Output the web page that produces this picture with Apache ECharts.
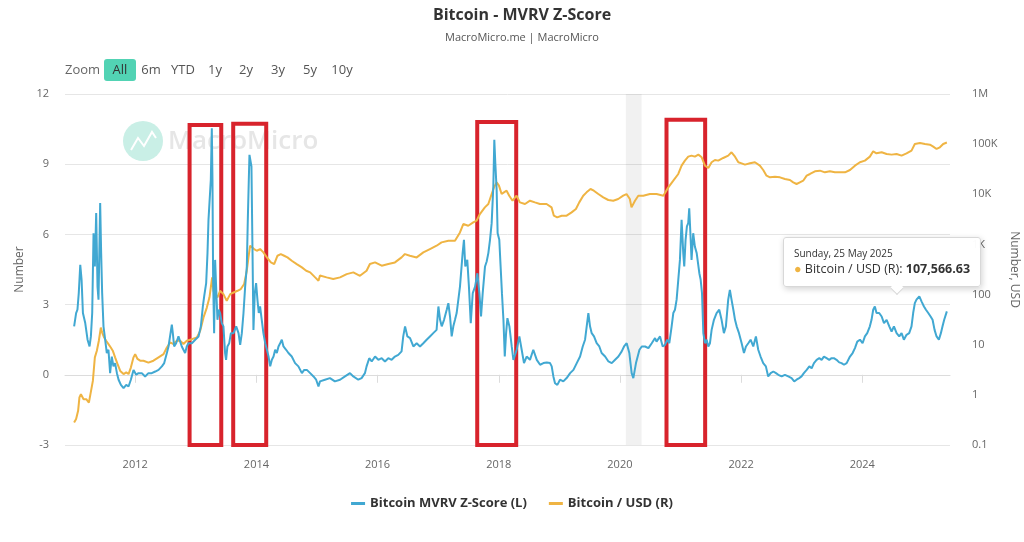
<!DOCTYPE html>
<html>
<head>
<meta charset="utf-8">
<script src="https://cdn.jsdelivr.net/npm/echarts@6/dist/echarts.min.js"></script>
<style>
  html, body { margin: 0; padding: 0; background: #fff; }
  #chart { width: 1024px; height: 542px; }
</style>
</head>
<body>
<div id="chart"></div>
<script>
// MVRV Z-Score (left axis)
var zDates = [
  "2010-12-29","2011-01-10","2011-01-18","2011-01-26","2011-02-04","2011-02-12","2011-02-20","2011-03-06","2011-03-20","2011-04-01","2011-04-09","2011-04-17","2011-04-25","2011-05-03","2011-05-11","2011-05-19","2011-05-25","2011-06-04","2011-06-10","2011-06-16","2011-06-24","2011-07-04","2011-07-14","2011-07-24","2011-08-03","2011-08-13","2011-08-23","2011-09-02","2011-09-13","2011-09-23","2011-10-07","2011-10-23","2011-11-08","2011-11-22","2011-12-06","2011-12-22",
  "2012-01-07","2012-01-21","2012-02-10","2012-03-01","2012-03-21","2012-04-10","2012-05-01","2012-05-21","2012-06-10","2012-06-24","2012-07-10","2012-07-20","2012-07-30","2012-08-09","2012-08-15","2012-08-23","2012-09-04","2012-09-18","2012-09-28","2012-10-08","2012-10-18","2012-10-28","2012-11-07","2012-11-17","2012-12-08","2012-12-28",
  "2013-01-17","2013-01-31","2013-02-12","2013-02-20","2013-03-04","2013-03-12","2013-03-18","2013-03-24","2013-04-01","2013-04-07","2013-04-11","2013-04-15","2013-04-21","2013-04-27","2013-05-03","2013-05-11","2013-05-19","2013-05-27","2013-06-06","2013-06-16","2013-06-26","2013-07-02","2013-07-10","2013-07-21","2013-07-31","2013-08-16","2013-09-01","2013-09-15","2013-09-25","2013-10-05","2013-10-15","2013-10-25","2013-11-04","2013-11-10","2013-11-16","2013-11-20","2013-11-26","2013-12-02","2013-12-08","2013-12-14","2013-12-22","2013-12-30",
  "2014-01-07","2014-01-15","2014-01-23","2014-02-02","2014-02-12","2014-02-23","2014-03-05","2014-03-15","2014-03-25","2014-04-04","2014-04-14","2014-04-24","2014-05-04","2014-05-14","2014-05-24","2014-06-03","2014-06-13","2014-06-29","2014-07-13","2014-08-02","2014-08-22","2014-09-11","2014-10-02","2014-10-16","2014-11-01","2014-11-21","2014-12-11","2014-12-27",
  "2015-01-10","2015-01-19","2015-02-18","2015-03-20","2015-04-19","2015-05-20","2015-06-19","2015-07-19","2015-08-08","2015-09-07","2015-09-27","2015-10-17","2015-10-27","2015-11-12","2015-11-27","2015-12-17",
  "2016-01-06","2016-01-26","2016-02-15","2016-03-06","2016-03-26","2016-04-15","2016-05-05","2016-05-25","2016-06-04","2016-06-15","2016-06-29","2016-07-15","2016-08-04","2016-08-24","2016-09-13","2016-10-03","2016-10-23","2016-11-12","2016-12-02","2016-12-22",
  "2017-01-02","2017-01-12","2017-01-22","2017-02-05","2017-02-21","2017-03-03","2017-03-13","2017-03-23","2017-04-02","2017-04-12","2017-04-22","2017-05-12","2017-05-28","2017-06-05","2017-06-13","2017-06-25","2017-07-05","2017-07-16","2017-07-28","2017-08-11","2017-08-25","2017-09-06","2017-09-16","2017-09-26","2017-10-10","2017-10-20","2017-10-30","2017-11-09","2017-11-19","2017-11-29","2017-12-05","2017-12-11","2017-12-19","2017-12-25",
  "2018-01-04","2018-01-12","2018-01-20","2018-01-29","2018-02-06","2018-02-14","2018-02-22","2018-03-06","2018-03-20","2018-03-30","2018-04-19","2018-05-05","2018-05-19","2018-06-02","2018-06-18","2018-07-08","2018-07-28","2018-08-18","2018-09-07","2018-09-27","2018-10-17","2018-11-06","2018-11-16","2018-11-26","2018-12-06","2018-12-20",
  "2019-01-05","2019-01-25","2019-02-14","2019-03-07","2019-03-27","2019-04-16","2019-05-06","2019-05-22","2019-06-05","2019-06-15","2019-06-25","2019-07-05","2019-07-15","2019-07-29","2019-08-14","2019-08-30","2019-09-13","2019-10-04","2019-10-24","2019-11-13","2019-12-03","2019-12-23",
  "2020-01-12","2020-01-26","2020-02-11","2020-02-27","2020-03-12","2020-03-22","2020-04-07","2020-04-28","2020-05-12","2020-06-01","2020-06-21","2020-07-11","2020-07-31","2020-08-09","2020-08-30","2020-09-15","2020-09-29","2020-10-13","2020-10-25","2020-11-08","2020-11-18","2020-11-28","2020-12-08","2020-12-18","2020-12-28",
  "2021-01-07","2021-01-17","2021-01-23","2021-01-31","2021-02-08","2021-02-16","2021-02-22","2021-03-02","2021-03-08","2021-03-18","2021-03-28","2021-04-08","2021-04-18","2021-04-24","2021-05-02","2021-05-10","2021-05-18","2021-05-28","2021-06-07","2021-06-17","2021-06-27","2021-07-07","2021-07-21","2021-08-06","2021-08-22","2021-09-05","2021-09-19","2021-10-01","2021-10-15","2021-10-25","2021-11-04","2021-11-15","2021-11-25","2021-12-05","2021-12-19",
  "2022-01-04","2022-01-18","2022-01-30","2022-02-13","2022-02-27","2022-03-15","2022-03-31","2022-04-14","2022-04-28","2022-05-14","2022-05-30","2022-06-13","2022-06-28","2022-07-14","2022-07-30","2022-08-13","2022-09-02","2022-09-22","2022-10-12","2022-11-01","2022-11-17","2022-12-01","2022-12-17","2022-12-31",
  "2023-01-14","2023-01-31","2023-02-16","2023-03-02","2023-03-16","2023-04-01","2023-04-17","2023-05-01","2023-05-15","2023-05-31","2023-06-16","2023-06-30","2023-07-14","2023-07-30","2023-08-15","2023-08-29","2023-09-13","2023-09-29","2023-10-19","2023-11-04","2023-11-18","2023-12-02","2023-12-18",
  "2024-01-03","2024-01-17","2024-01-31","2024-02-16","2024-02-26","2024-03-07","2024-03-17","2024-03-27","2024-04-12","2024-04-27","2024-05-11","2024-05-27","2024-06-12","2024-06-26","2024-07-10","2024-07-26","2024-08-11","2024-08-25","2024-09-08","2024-09-24","2024-10-10","2024-10-24","2024-11-03","2024-11-13","2024-11-23","2024-12-10","2024-12-24",
  "2025-01-07","2025-01-19","2025-02-02","2025-02-16","2025-02-28","2025-03-12","2025-03-24","2025-04-07","2025-04-19","2025-04-29","2025-05-09","2025-05-25"
];
var zScore = [
  2.07,2.64,2.78,3.49,4.70,4.06,2.64,2.21,1.5,1.21,1.64,2.64,6.05,4.63,6.91,3.77,3.21,7.34,5.2,3.49,2.07,1.5,0.93,1.07,0.07,0.78,0.36,0.5,0.07,-0.21,-0.43,-0.57,-0.43,-0.5,-0.21,0.21,
  0.0,0.07,0.07,-0.07,0.07,0.07,0.14,0.21,0.36,0.5,0.93,1.21,1.21,2.14,1.78,1.21,1.35,1.64,1.57,1.21,1.07,0.93,1.21,1.35,1.35,1.5,
  1.64,2.07,2.92,3.35,3.92,5.2,6.62,6.62,8.33,10.54,8.33,4.06,1.78,4.91,3.77,2.35,2.78,2.64,2.21,2.07,0.93,0.64,1.21,1.35,1.78,1.78,2.07,1.78,1.28,1.78,2.64,3.77,4.63,6.62,8.33,9.40,9.47,8.9,5.48,1.92,3.49,3.92,
  3.21,2.64,2.92,2.35,1.78,1.35,1.07,0.78,0.36,0.64,0.78,1.07,0.93,1.21,1.35,1.5,1.21,1.07,0.93,0.78,0.5,0.36,0.07,0.21,0.21,0.07,-0.07,-0.21,
  -0.5,-0.28,-0.21,-0.14,-0.28,-0.21,-0.07,0.07,-0.07,-0.21,-0.14,0.07,0.36,0.71,0.57,0.78,
  0.64,0.71,0.57,0.71,0.64,0.78,0.85,1.0,1.64,2.07,1.64,1.57,1.21,1.35,1.21,1.35,1.5,1.64,1.78,1.92,
  2.92,2.35,2.07,2.35,2.78,3.06,2.49,1.64,2.07,2.35,2.64,3.77,5.2,5.77,4.63,4.91,3.77,2.21,3.49,3.77,4.34,3.49,2.49,3.49,4.63,4.84,5.2,5.77,6.48,8.05,10.04,9.05,7.91,6.05,
  5.77,4.63,3.49,2.35,0.78,1.78,2.42,2.07,1.21,0.64,1.07,1.64,1.07,0.5,0.78,0.64,1.07,0.64,0.43,0.5,0.53,0.5,0.36,-0.07,-0.36,-0.43,
  -0.21,-0.28,-0.14,0.07,0.21,0.5,0.78,1.21,1.5,2.07,2.64,2.07,1.78,1.64,1.35,1.21,0.93,0.78,0.57,0.5,0.64,0.78,
  1.0,1.21,1.35,0.93,0.07,-0.14,0.5,1.07,1.21,1.21,1.14,1.35,1.57,1.42,1.64,1.21,1.28,1.5,1.35,2.07,2.64,2.78,3.21,4.06,4.91,
  6.62,5.2,4.63,5.77,6.34,6.48,7.12,5.91,4.91,6.05,5.48,5.2,5.2,4.34,4.06,3.49,1.78,1.35,1.5,1.21,1.35,1.92,2.35,2.64,2.78,2.35,1.78,2.07,3.21,3.63,3.21,2.78,2.35,2.07,1.78,
  1.35,0.93,1.21,1.35,1.5,1.21,1.64,1.07,0.78,0.5,0.36,-0.07,0.07,0.14,0.07,0.0,-0.07,0.0,-0.07,-0.14,-0.28,-0.21,-0.14,-0.07,
  0.07,0.21,0.36,0.28,0.5,0.64,0.71,0.64,0.78,0.71,0.64,0.71,0.71,0.64,0.53,0.5,0.43,0.5,0.78,0.93,1.14,1.42,1.5,
  1.35,1.64,1.78,2.07,2.35,2.78,2.92,2.64,2.64,2.49,2.21,2.35,2.07,1.85,2.07,1.78,1.64,1.78,1.5,1.71,1.78,2.07,2.64,3.06,3.21,3.35,3.13,
  2.92,2.78,2.64,2.49,2.35,1.92,1.64,1.5,1.78,2.07,2.35,2.71
];

// Bitcoin price in USD (right axis, log scale)
var btcDates = [
  "2010-12-29","2011-01-10","2011-01-22","2011-01-30","2011-02-08","2011-02-24","2011-03-12","2011-03-28","2011-04-09","2011-04-21","2011-05-03","2011-05-15","2011-05-27","2011-06-08","2011-06-16","2011-06-28","2011-07-10","2011-07-24","2011-08-07","2011-08-19","2011-09-02","2011-09-17","2011-10-03","2011-10-23","2011-11-08","2011-11-22","2011-12-06","2011-12-22",
  "2012-01-01","2012-01-15","2012-01-31","2012-02-20","2012-03-21","2012-04-20","2012-05-21","2012-06-20","2012-07-10","2012-07-30","2012-08-19","2012-09-08","2012-09-28","2012-10-18","2012-11-07","2012-12-08",
  "2013-01-07","2013-01-27","2013-02-16","2013-03-08","2013-03-24","2013-04-01","2013-04-09","2013-04-17","2013-04-27","2013-05-11","2013-05-27","2013-06-16","2013-07-06","2013-07-27","2013-08-16","2013-09-09","2013-09-29","2013-10-19","2013-11-04","2013-11-14","2013-11-24","2013-12-06","2013-12-18",
  "2014-01-03","2014-01-23","2014-02-12","2014-03-05","2014-03-29","2014-04-18","2014-05-08","2014-05-28","2014-06-17","2014-07-07","2014-08-02","2014-09-01","2014-10-02","2014-10-28","2014-11-21","2014-12-21",
  "2015-01-10","2015-01-19","2015-02-28","2015-04-09","2015-05-20","2015-06-29","2015-08-08","2015-09-17","2015-10-27","2015-11-16","2015-12-17",
  "2016-01-26","2016-03-06","2016-04-15","2016-05-25","2016-06-14","2016-07-14","2016-08-24","2016-10-03","2016-11-12","2016-12-22",
  "2017-01-21","2017-03-03","2017-04-12","2017-05-12","2017-06-01","2017-07-01","2017-07-31","2017-08-20","2017-09-09","2017-10-09","2017-10-30","2017-11-19","2017-12-03","2017-12-19",
  "2018-01-02","2018-01-18","2018-02-01","2018-02-17","2018-03-05","2018-03-25","2018-04-18","2018-05-08","2018-06-08","2018-07-08","2018-08-07","2018-09-06","2018-10-16","2018-11-15","2018-11-29","2018-12-19",
  "2019-01-15","2019-02-14","2019-03-16","2019-04-11","2019-05-01","2019-05-25","2019-06-14","2019-07-08","2019-07-28","2019-08-24","2019-09-23","2019-10-23","2019-11-22","2019-12-22",
  "2020-01-21","2020-02-10","2020-03-01","2020-03-11","2020-04-01","2020-04-21","2020-05-21","2020-06-30","2020-08-09","2020-09-19","2020-10-19","2020-11-18","2020-12-18",
  "2021-01-07","2021-01-27","2021-02-16","2021-03-08","2021-03-28","2021-04-18","2021-05-08","2021-05-28","2021-06-17","2021-07-07","2021-07-27","2021-08-16","2021-09-15","2021-10-15","2021-11-04","2021-11-25","2021-12-15",
  "2022-01-04","2022-01-24","2022-02-23","2022-03-25","2022-04-24","2022-05-14","2022-06-03","2022-06-24","2022-07-24","2022-08-23","2022-09-22","2022-10-22","2022-11-11","2022-12-01","2022-12-21",
  "2023-01-10","2023-01-31","2023-02-20","2023-03-22","2023-04-21","2023-05-21","2023-06-20","2023-07-20","2023-08-19","2023-09-19","2023-10-19","2023-11-18","2023-12-18",
  "2024-01-17","2024-02-16","2024-03-07","2024-03-27","2024-04-27","2024-05-27","2024-06-26","2024-07-26","2024-08-25","2024-09-24","2024-10-24","2024-11-13","2024-12-14",
  "2025-01-13","2025-02-12","2025-03-04","2025-03-24","2025-04-13","2025-05-03","2025-05-25"
];
var btcUsd = [
  0.28,0.33,0.48,0.89,1.03,0.82,0.82,0.70,0.76,1.9,5.6,7.6,12,22,17.5,13.9,12,10.3,8.8,7.6,5.6,4.1,3.0,2.6,2.8,2.6,3.5,5.6,
  6.5,5.2,4.8,4.8,4.4,4.8,5.6,6.5,8.8,11.1,10.3,12,12,10.3,12,12.9,
  13.9,18.9,35,55,88,139,220,119,102,88,119,102,75,102,110,119,129,162,299,551,942,942,808,
  748,808,693,551,438,406,595,642,595,551,473,406,348,299,277,220,
  189,240,220,204,220,256,277,237,299,406,438,
  376,406,438,551,642,595,551,693,808,942,
  1099,1186,1186,1738,2548,2360,2754,2972,4036,5482,6397,10120,13740,17300,
  14850,10120,10940,11800,9380,7450,9380,6900,6397,7450,6900,6400,6400,5480,3740,3465,
  3740,3740,4360,5080,6900,9380,10940,12740,11800,10120,8690,7690,7450,8050,
  9380,10120,8050,5480,7450,9380,9380,10120,10120,9380,13740,18660,25400,
  37260,46900,56350,59000,56350,61800,54700,37260,33440,43450,48350,46900,52950,59000,68860,56350,43450,
  41420,38990,41420,43450,37260,30500,23500,21780,22440,21780,20180,19280,17300,16030,17300,
  18660,23500,25400,28700,29580,27400,28700,27400,27400,27400,30500,37260,43450,
  46900,56350,71900,65600,68860,63640,61800,63640,59000,65600,74300,100700,105500,
  100700,97700,89100,80200,86500,100700,107566.63
];

// red highlight boxes drawn over the cycle tops
var boxStart = ["2012-11-24","2013-08-14","2017-08-24","2020-10-08"];
var boxEnd   = ["2013-06-03","2014-03-01","2018-04-16","2021-05-29"];
var boxTop   = [10.68, 10.73, 10.8, 10.9];
var boxBottom = -3.23;

// shaded band (2020)
var bandStart = "2020-02-06";
var bandEnd = "2020-05-11";

var zoomButtons = ["All","6m","YTD","1y","2y","3y","5y","10y"];
var zoomX = [120,151,183,215,246,278,310,342];

var BLUE = "#41a8d2";
var ORANGE = "#efb443";
var FONT = "'Open Sans', 'Noto Sans', sans-serif";

function zip(a, b) {
  return a.map(function (d, i) { return [d, b[i]]; });
}

function fmtUsd(v) {
  if (v >= 1000000) return (v / 1000000) + "M";
  if (v >= 1000) return (v / 1000) + "K";
  return String(v);
}

var boxes = boxStart.map(function (s, i) {
  return [{ coord: [s, boxTop[i]] }, { coord: [boxEnd[i], boxBottom] }];
});

var graphics = [
  { type: "text", x: 65, y: 70, style: { text: "Zoom", font: "13px " + FONT, fill: "#666", verticalAlign: "middle" } },
  { type: "rect", shape: { x: 104, y: 59, width: 32, height: 22, r: 3 }, style: { fill: "#52d3b4" } },
  // watermark
  { type: "circle", shape: { cx: 143, cy: 141, r: 20 }, style: { fill: "#c9efe6" } },
  { type: "polyline", shape: { points: [[131, 150], [138, 138], [144, 146], [152, 132], [156, 138]] },
    style: { stroke: "#fff", lineWidth: 2, fill: null } },
  { type: "text", x: 168, y: 142, style: { text: "MacroMicro", font: "600 26px " + FONT, fill: "#e6e6e6", verticalAlign: "middle" } }
];
zoomButtons.forEach(function (b, i) {
  graphics.push({ type: "text", x: zoomX[i], y: 70,
    style: { text: b, font: "13px " + FONT, fill: i === 0 ? "#333" : "#555", align: "center", verticalAlign: "middle" } });
});

var chart = echarts.init(document.getElementById("chart"), null, { renderer: "canvas" });
var option = {
  animation: false,
  backgroundColor: "#fff",
  title: {
    text: "Bitcoin - MVRV Z-Score",
    subtext: "MacroMicro.me | MacroMicro",
    left: 517, top: 2, textAlign: "center", itemGap: 9,
    textStyle: { fontFamily: FONT, fontSize: 16, fontWeight: "bold", color: "#333" },
    subtextStyle: { fontFamily: FONT, fontSize: 11, color: "#555" }
  },
  graphic: graphics,
  legend: {
    bottom: 27, left: "center",
    icon: "rect", itemWidth: 14, itemHeight: 3, itemGap: 22,
    textStyle: { fontFamily: FONT, fontSize: 13, fontWeight: "bold", color: "#333" },
    data: ["Bitcoin MVRV Z-Score (L)", "Bitcoin / USD (R)"]
  },
  grid: { left: 65, right: 74, top: 94, bottom: 97, containLabel: false, outerBoundsMode: "none" },
  tooltip: {
    trigger: "axis",
    triggerOn: "none",
    alwaysShowContent: true,
    transitionDuration: 0,
    position: [783, 237],
    axisPointer: { type: "none" },
    backgroundColor: "rgba(255,255,255,0.97)",
    borderColor: "#d8d8d8",
    borderWidth: 1,
    padding: [8, 10],
    extraCssText: "box-shadow:1px 2px 6px rgba(0,0,0,0.18);border-radius:3px;overflow:visible;",
    formatter: function (params) {
      var p = params.filter(function (q) { return q.seriesIndex === 1; })[0];
      if (!p) return "";
      var d = new Date(p.value[0] + "T00:00:00Z");
      var days = ["Sunday","Monday","Tuesday","Wednesday","Thursday","Friday","Saturday"];
      var months = ["Jan","Feb","Mar","Apr","May","Jun","Jul","Aug","Sep","Oct","Nov","Dec"];
      var head = days[d.getUTCDay()] + ", " + d.getUTCDate() + " " + months[d.getUTCMonth()] + " " + d.getUTCFullYear();
      var val = p.value[1].toLocaleString("en-US", { minimumFractionDigits: 2, maximumFractionDigits: 2 });
      return '<div style="font-family:' + FONT.replace(/'/g, "") + ';color:#333;position:relative">' +
        '<div style="font-size:10px;line-height:14px">' + head + '</div>' +
        '<div style="font-size:12.5px;line-height:18px"><span style="color:' + ORANGE + '">\u25CF</span> Bitcoin / USD (R): <b>' + val + '</b></div>' +
        '<div style="position:absolute;left:98px;bottom:-15px;width:9px;height:9px;background:#fff;transform:rotate(45deg);border-right:1px solid #d8d8d8;border-bottom:1px solid #d8d8d8"></div>' +
        '</div>';
    }
  },
  xAxis: {
    type: "time",
    min: "2010-11-04",
    max: "2025-06-13",
    splitNumber: 7,
    axisLine: { lineStyle: { color: "#dcdcdc" } },
    axisTick: { show: true, length: 8, lineStyle: { color: "#dcdcdc" } },
    axisLabel: { fontFamily: FONT, fontSize: 11, color: "#666", margin: 14, formatter: "{yyyy}", hideOverlap: false },
    splitLine: { show: false }
  },
  yAxis: [
    {
      type: "value", min: -3, max: 12, interval: 3,
      name: "Number", nameLocation: "middle", nameGap: 38,
      nameTextStyle: { fontFamily: FONT, fontSize: 12, color: "#666" },
      axisLabel: { fontFamily: FONT, fontSize: 11, color: "#666", margin: 16 },
      axisLine: { show: false }, axisTick: { show: false },
      splitLine: { lineStyle: { color: "#e6e6e6" } }
    },
    {
      type: "log", logBase: 10, min: 0.1, max: 1000000, interval: 1,
      name: "Number, USD", nameLocation: "middle", nameGap: 52, nameRotate: -90,
      nameTextStyle: { fontFamily: FONT, fontSize: 12, color: "#666" },
      axisLabel: { fontFamily: FONT, fontSize: 11, color: "#666", margin: 22, formatter: fmtUsd },
      axisLine: { show: false }, axisTick: { show: false },
      splitLine: { show: false }
    }
  ],
  series: [
    {
      name: "Bitcoin MVRV Z-Score (L)",
      type: "line", yAxisIndex: 0, symbol: "none", clip: false, z: 3,
      lineStyle: { color: BLUE, width: 2 }, itemStyle: { color: BLUE },
      emphasis: { disabled: true },
      data: zip(zDates, zScore),
      markArea: {
        silent: true,
        itemStyle: { color: "rgba(0,0,0,0)", borderColor: "#d8232c", borderWidth: 4 },
        data: boxes
      }
    },
    {
      name: "Bitcoin / USD (R)",
      type: "line", yAxisIndex: 1, symbol: "none", z: 2,
      lineStyle: { color: ORANGE, width: 2 }, itemStyle: { color: ORANGE },
      emphasis: { disabled: true },
      data: zip(btcDates, btcUsd),
      markArea: {
        silent: true,
        itemStyle: { color: "rgba(0,0,0,0.055)" },
        data: [[{ xAxis: bandStart }, { xAxis: bandEnd }]]
      }
    }
  ]
};
chart.setOption(option);
chart.dispatchAction({ type: "showTip", seriesIndex: 1, dataIndex: btcUsd.length - 1 });
</script>
</body>
</html>
